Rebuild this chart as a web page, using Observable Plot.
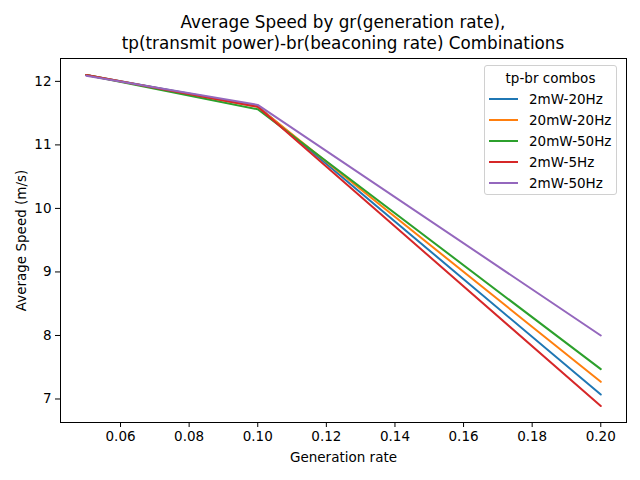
<!DOCTYPE html>
<html>
<head>
<meta charset="utf-8">
<script src="https://cdn.jsdelivr.net/npm/d3@7"></script>
<script src="https://cdn.jsdelivr.net/npm/@observablehq/plot@0.6"></script>
<style>
  body { margin: 0; background: #fff; font-family: "DejaVu Sans", sans-serif; }
  #wrap { position: relative; width: 640px; height: 480px; }
  #title { position: absolute; z-index: 2; left: 40px; width: 606px; top: 12px; text-align: center; font-size: 16.8px; line-height: 21px; color: #000; }
  #chart { position: absolute; z-index: 1; left: 0; top: 50px; }
  #legend { position: absolute; z-index: 3; left: 484px; top: 65px; width: 133px; height: 130px; border: 1px solid #d0d0d0; border-radius: 3px; background: rgba(255,255,255,0.8); font-size: 13.5px; color: #000; box-sizing: border-box; }
  #legend .lt { text-align: center; margin-top: 2px; height: 20px; line-height: 20px; }
  #legend .row { display: flex; align-items: center; height: 21px; }
  #legend .sw { width: 29px; height: 2px; margin-left: 4px; margin-right: 11px; }
</style>
</head>
<body>
<div id="wrap">
  <div id="title">Average Speed by gr(generation rate),<br>tp(transmit power)-br(beaconing rate) Combinations</div>
  <div id="chart"></div>
  <div id="legend"></div>
</div>
<script>
const genRates = [0.05, 0.1, 0.2];
const combos = ["2mW-20Hz", "20mW-20Hz", "20mW-50Hz", "2mW-5Hz", "2mW-50Hz"];
const colors = ["#1f77b4", "#ff7f0e", "#2ca02c", "#d62728", "#9467bd"];
const speed_2mW_20Hz = [12.10, 11.61, 7.07];
const speed_20mW_20Hz = [12.10, 11.60, 7.27];
const speed_20mW_50Hz = [12.10, 11.56, 7.47];
const speed_2mW_5Hz = [12.10, 11.60, 6.89];
const speed_2mW_50Hz = [12.09, 11.63, 8.00];
const xTicks = [0.06, 0.08, 0.10, 0.12, 0.14, 0.16, 0.18, 0.20];
const yTicks = [7, 8, 9, 10, 11, 12];

const seriesValues = [speed_2mW_20Hz, speed_20mW_20Hz, speed_20mW_50Hz, speed_2mW_5Hz, speed_2mW_50Hz];
const rows = [];
combos.forEach((c, i) => {
  genRates.forEach((g, j) => rows.push({combo: c, gr: g, speed: seriesValues[i][j]}));
});

const chart = Plot.plot({
  width: 640,
  height: 430,
  marginLeft: 60,
  marginRight: 14,
  marginTop: 8,
  marginBottom: 58,
  style: { fontFamily: "DejaVu Sans, sans-serif", fontSize: "13.5px", color: "#000", background: "transparent" },
  x: { domain: [0.0425, 0.2075], ticks: xTicks, tickFormat: d3.format(".2f"), label: "Generation rate", labelAnchor: "center", labelArrow: "none", tickSize: 5, tickPadding: 4, labelOffset: 39 },
  y: { domain: [6.63, 12.36], ticks: yTicks, tickFormat: d3.format("d"), label: "Average Speed (m/s)", labelAnchor: "center", labelArrow: "none", tickSize: 5, tickPadding: 4, labelOffset: 44 },
  color: { domain: combos, range: colors },
  marks: [
    Plot.line(rows, { x: "gr", y: "speed", z: "combo", stroke: "combo", strokeWidth: 2 }),
    Plot.frame({ stroke: "#000", strokeWidth: 1 })
  ]
});
document.getElementById("chart").appendChild(chart);

const lg = document.getElementById("legend");
const t = document.createElement("div");
t.className = "lt"; t.textContent = "tp-br combos"; lg.appendChild(t);
combos.forEach((c, i) => {
  const r = document.createElement("div"); r.className = "row";
  const s = document.createElement("div"); s.className = "sw"; s.style.background = colors[i];
  const l = document.createElement("span"); l.textContent = c;
  r.appendChild(s); r.appendChild(l); lg.appendChild(r);
});
</script>
</body>
</html>
